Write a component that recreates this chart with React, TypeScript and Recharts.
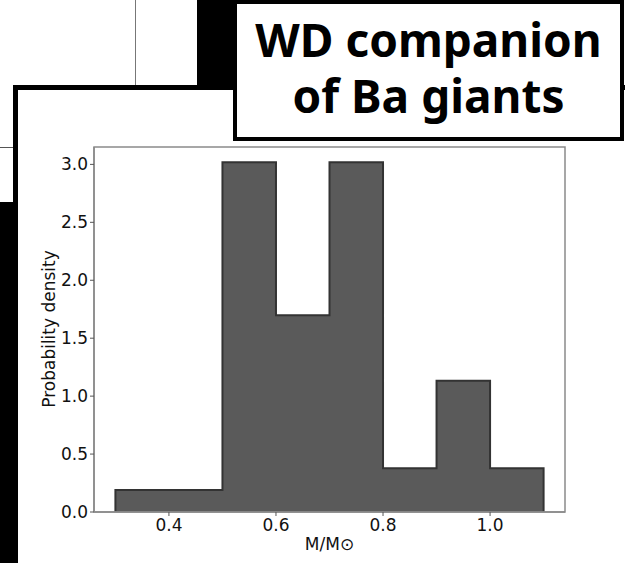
import React from 'react';
import { ComposedChart, Area, XAxis, YAxis, ReferenceArea } from 'recharts';

const binEdges = [0.3, 0.4, 0.5, 0.6, 0.7, 0.8, 0.9, 1.0, 1.1];
const density = [0.189, 0.189, 3.019, 1.698, 3.019, 0.377, 1.132, 0.377];
const xTicks = [0.4, 0.6, 0.8, 1.0];
const yTicks = [0, 0.5, 1.0, 1.5, 2.0, 2.5, 3.0];
const xDomain = [0.26, 1.14];
const yDomain = [0, 3.15];
const titleLines = ['WD companion', 'of Ba giants'];
const xLabel = 'M/M\u2299';
const yLabel = 'Probability density';

// step outline points: start at baseline, one point per bin edge, close at baseline
const stepData = [
  { x: binEdges[0], y: 0 },
  ...density.map((d, i) => ({ x: binEdges[i], y: d })),
  { x: binEdges[binEdges.length - 1], y: density[density.length - 1] },
  { x: binEdges[binEdges.length - 1], y: 0 },
];

const FONT = '"DejaVu Sans", sans-serif';
const SPINE = '#8a8a8a';
const TEXT = '#111';

export default function App() {
  return (
    <div style={{ position: 'absolute', left: 0, top: 0, width: 625, height: 563, overflow: 'hidden', background: '#fff' }}>
      <svg width={625} height={563} style={{ position: 'absolute', left: 0, top: 0 }}>
        <rect x={0} y={0} width={625} height={563} fill="#fff" />
        <line x1={135.5} y1={0} x2={135.5} y2={86} stroke="#777" strokeWidth={1} />
        <rect x={197} y={0} width={45} height={90} fill="#000" />
        <line x1={0} y1={147.5} x2={14} y2={147.5} stroke="#555" strokeWidth={1} />
        <rect x={0} y={202} width={18} height={361} fill="#000" />
        <rect x={15.5} y={87.5} width={700} height={600} fill="#fff" stroke="#000" strokeWidth={5} />
        <rect x={235} y={2} width={387} height={137} fill="#fff" stroke="#000" strokeWidth={4} />
        <text x={428.5} y={57} textAnchor="middle" fontFamily='"Noto Sans", sans-serif' fontWeight={700} fontSize={46} fill="#000">{titleLines[0]}</text>
        <text x={428.5} y={113} textAnchor="middle" fontFamily='"Noto Sans", sans-serif' fontWeight={700} fontSize={46} fill="#000">{titleLines[1]}</text>
      </svg>
      <div style={{ position: 'absolute', left: 0, top: 0 }}>
        <ComposedChart width={625} height={563} data={stepData} margin={{ top: 147, right: 60, bottom: 11, left: 34 }}>
          <XAxis
            dataKey="x"
            type="number"
            domain={xDomain}
            ticks={xTicks}
            allowDataOverflow
            height={40}
            tickSize={4}
            tickMargin={3}
            tickFormatter={(v: number) => v.toFixed(1)}
            tick={{ fill: TEXT, fontSize: 17, fontFamily: FONT }}
            tickLine={{ stroke: '#555' }}
            axisLine={{ stroke: SPINE, strokeWidth: 1.5 }}
            label={{
              content: () => (
                <text x={329.5} y={550} textAnchor="middle" fontFamily={FONT} fontSize={17} fill={TEXT}>{xLabel}</text>
              ),
            }}
          />
          <YAxis
            type="number"
            domain={yDomain}
            ticks={yTicks}
            allowDataOverflow
            width={60}
            tickSize={4}
            tickMargin={2}
            tickFormatter={(v: number) => v.toFixed(1)}
            tick={{ fill: TEXT, fontSize: 17, fontFamily: FONT }}
            tickLine={{ stroke: '#555' }}
            axisLine={{ stroke: SPINE, strokeWidth: 1.5 }}
            label={{
              content: () => (
                <text x={55} y={329} transform="rotate(-90, 55, 329)" textAnchor="middle" fontFamily={FONT} fontSize={17} fill={TEXT}>{yLabel}</text>
              ),
            }}
          />
          <Area
            type="stepAfter"
            dataKey="y"
            fill="#5a5a5a"
            fillOpacity={1}
            stroke="#333"
            strokeWidth={2}
            isAnimationActive={false}
            dot={false}
            activeDot={false}
          />
          <ReferenceArea
            x1={xDomain[0]}
            x2={xDomain[1]}
            y1={yDomain[0]}
            y2={yDomain[1]}
            fill="none"
            fillOpacity={0}
            stroke={SPINE}
            strokeWidth={1.5}
            ifOverflow="visible"
          />
        </ComposedChart>
      </div>
    </div>
  );
}
